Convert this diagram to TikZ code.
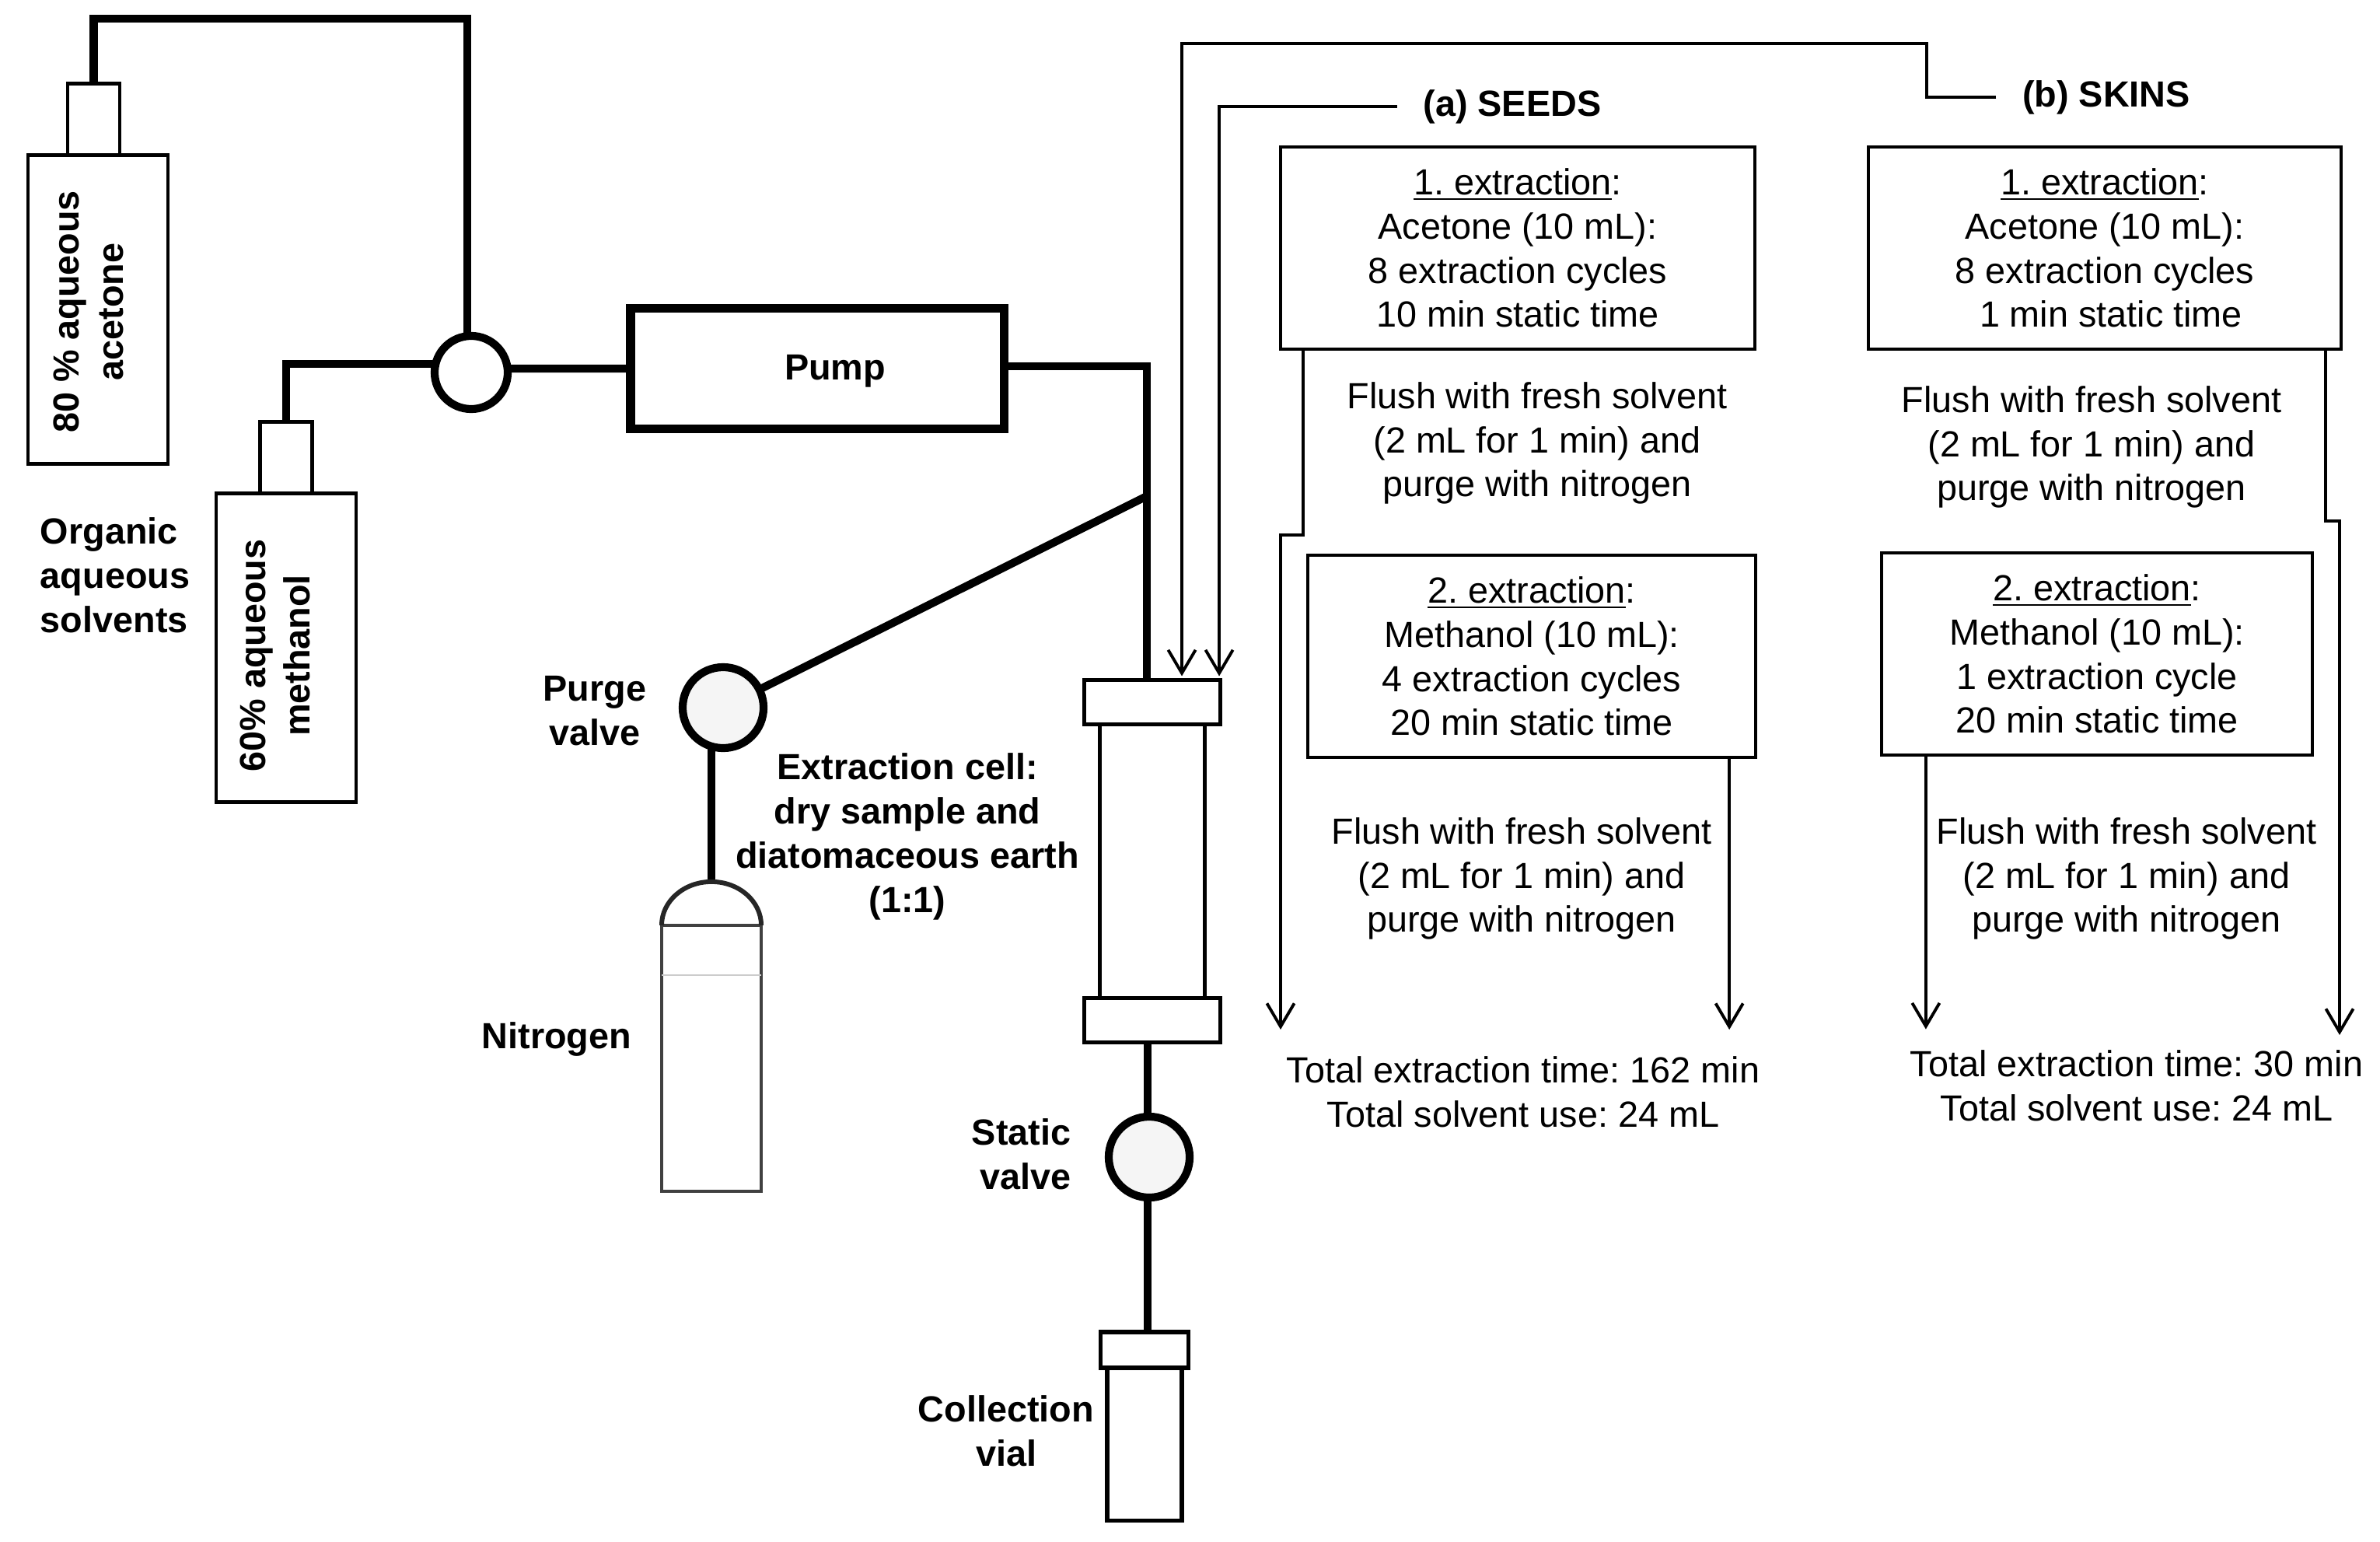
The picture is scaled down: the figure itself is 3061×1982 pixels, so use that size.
\documentclass[tikz,border=0pt]{standalone}
\usepackage{fontspec}
\setmainfont{Liberation Sans}
\usetikzlibrary{positioning,arrows.meta}
\frenchspacing

\begin{document}
\begin{tikzpicture}[
      x=0.01cm,
      y=-0.01cm,
      >={Straight Barb[length=8.5pt,width=10pt]},
      vessel/.style={
        draw,
        line width=1.3pt,
        outer sep=0pt,
        inner sep=0pt
      },
      valve/.style={
        draw,
        circle,
        line width=2.9pt,
        minimum size=1.04cm,
        inner sep=0pt,
        outer sep=0pt,
        fill=black!4
      },
      pipe/.style={line width=2.9pt},
      flow/.style={line width=1.1pt},
      tag/.style={
        font=\fontsize{13.3}{16.2}\selectfont\bfseries,
        align=center,
        inner sep=0pt
      },
      steptext/.style={
        font=\fontsize{13.3}{16.1}\selectfont,
        align=center,
        inner sep=0pt
      },
      stepbox/.style={
        steptext,
        draw,
        line width=1.1pt,
        outer sep=0pt
      }
    ]
    \useasboundingbox (0,0) rectangle (3061,1982);
    %% Solvents
    \node[vessel,minimum width=1.80cm,minimum height=3.97cm] (acetone) at (126,398) {};
    \node[vessel,minimum width=0.67cm,minimum height=0.92cm,above=0pt of acetone,xshift=-0.055cm] (acetone-neck) {};
    \node[tag,rotate=90] (acetone-tag) at (114,401) {80 \% aqueous\\acetone};
    \node[vessel,minimum width=1.80cm,minimum height=3.97cm] (methanol) at (368,833) {};
    \node[vessel,minimum width=0.67cm,minimum height=0.92cm,above=0pt of methanol] (methanol-neck) {};
    \node[tag,rotate=90] (methanol-tag) at (354,843) {60\% aqueous\\methanol};
    \node[tag,align=left] (solvents) at (148,740) {Organic\\aqueous\\solvents};
    %% Pump
    \node[valve,minimum size=0.94cm,fill=white] (mix) at (606,479) {};
    \node[draw,line width=3.2pt,minimum width=4.80cm,minimum height=1.55cm,outer sep=0pt] (pump) at (1051,474) {};
    \node[tag] (pump-tag) at (1074,477) {Pump};
    %% Extraction cell
    \node[vessel,line width=1.5pt,minimum width=1.75cm,minimum height=0.57cm] (cell-top) at (1482,903) {};
    \node[vessel,line width=1.5pt,minimum width=1.35cm,minimum height=3.52cm,below=0pt of cell-top] (cell) {};
    \node[vessel,line width=1.5pt,minimum width=1.75cm,minimum height=0.57cm,below=0pt of cell] (cell-bottom) {};
    \node[tag] (cell-tag) at (1167,1076) {Extraction cell:\\dry sample and\\diatomaceous earth\\(1:1)};
    %% Purge valve and nitrogen
    \coordinate (junction) at (1475,638);
    \node[valve] (purge) at (930,910) {};
    \node[tag] (purge-tag) at (765,914) {Purge\\valve};
    \node[vessel,draw=black!75,minimum width=1.28cm,minimum height=3.42cm] (nitrogen) at (915,1361) {};
    \coordinate (dome-top) at ([yshift=0.56cm]nitrogen.north);
    \node[tag] (nitrogen-tag) at (716,1336) {Nitrogen};
    %% Static valve and vial
    \node[valve] (static) at (1478,1488) {};
    \node[tag,align=right,anchor=east] (static-tag) at (1378,1484) {Static\\valve};
    \node[vessel,line width=1.5pt,minimum width=1.13cm,minimum height=0.46cm] (vial-cap) at (1472,1736) {};
    \node[vessel,line width=1.5pt,minimum width=0.96cm,minimum height=1.96cm,below=0pt of vial-cap] (vial) {};
    \node[tag] (vial-tag) at (1294,1840) {Collection\\vial};
    %% Thick lines
    \draw[pipe] (acetone-neck.north) -- ++(0,-83) -| ([xshift=-0.05cm]mix.north);
    \draw[pipe] (methanol-neck.north) |- ([yshift=0.11cm]mix.west);
    \draw[pipe] ([yshift=0.05cm]mix.east) -- (pump.west);
    \draw[pipe] ([yshift=0.03cm]pump.east) -| ([xshift=-0.07cm]cell-top.north);
    \draw[pipe] (junction) -- (purge);
    \draw[pipe] (dome-top |- purge.south) -- (dome-top);
    \draw[pipe] ([xshift=-0.02cm]static.north |- cell-bottom.south) -- ([xshift=-0.02cm]static.north);
    \draw[pipe] ([xshift=-0.02cm]static.south) -- ([xshift=-0.02cm]static.south |- vial-cap.north);
    %% Cylinder top
    \draw[line width=1.7pt,draw=black!85] (nitrogen.north west) arc[start angle=180,end angle=0,x radius=0.64cm,y radius=0.56cm];
    \draw[line width=0.5pt,draw=black!20] ([yshift=-0.64cm]nitrogen.north west) -- ([yshift=-0.64cm]nitrogen.north east);
    %% Seeds
    \node[tag,inner xsep=0.33cm] (seeds) at (1945,137) {(a) SEEDS};
    \node[stepbox,minimum width=6.10cm,minimum height=2.59cm] (seeds-1) at (1952,319) {\underline{1. extraction}:\\Acetone (10 mL):\\8 extraction cycles\\10 min static time};
    \node[steptext] (seeds-flush-1) at (1977,570) {Flush with fresh solvent\\(2 mL for 1 min) and\\purge with nitrogen};
    \node[stepbox,minimum width=5.76cm,minimum height=2.60cm] (seeds-2) at (1970,844) {\underline{2. extraction}:\\Methanol (10 mL):\\4 extraction cycles\\20 min static time};
    \node[steptext] (seeds-flush-2) at (1957,1130) {Flush with fresh solvent\\(2 mL for 1 min) and\\purge with nitrogen};
    \node[steptext] (seeds-total) at (1959,1404) {Total extraction time: 162 min\\Total solvent use: 24 mL};
    %% Skins
    \node[tag,inner xsep=0.33cm] (skins) at (2709,125) {(b) SKINS};
    \node[stepbox,minimum width=6.08cm,minimum height=2.59cm] (skins-1) at (2707,319) {\underline{1. extraction}:\\Acetone (10 mL):\\8 extraction cycles\\\hspace*{4.5pt}1 min static time};
    \node[steptext] (skins-flush-1) at (2690,575) {Flush with fresh solvent\\(2 mL for 1 min) and\\purge with nitrogen};
    \node[stepbox,minimum width=5.54cm,minimum height=2.59cm] (skins-2) at (2697,841) {\underline{2. extraction}:\\Methanol (10 mL):\\1 extraction cycle\\20 min static time};
    \node[steptext] (skins-flush-2) at (2735,1130) {Flush with fresh solvent\\(2 mL for 1 min) and\\purge with nitrogen};
    \node[steptext] (skins-total) at (2748,1396) {Total extraction time: 30 min\\Total solvent use: 24 mL};
    %% Arrows to the cell
    \coordinate (skins-bend) at (2478,56);
    \draw[flow,->] (skins.west) -| (skins-bend) -| ([xshift=0.38cm,yshift=0.05cm]cell-top.north);
    \draw[flow,->] (seeds.west) -| ([xshift=0.86cm,yshift=0.05cm]cell-top.north);
    %% Arrows to the totals
    \coordinate (seeds-jog) at (1647,688);
    \coordinate (seeds-end) at (1647,1324);
    \coordinate (skins-jog) at (3009,670);
    \coordinate (skins-end) at (3009,1331);
    \draw[flow,->] ([xshift=0.29cm]seeds-1.south west) |- (seeds-jog) -- (seeds-end);
    \draw[flow,->] ([xshift=-0.34cm]seeds-2.south east) -- ++(0,350);
    \draw[flow,->] ([xshift=-0.20cm]skins-1.south east) |- (skins-jog) -- (skins-end);
    \draw[flow,->] ([xshift=0.57cm]skins-2.south west) -- ++(0,353);
  \end{tikzpicture}
\end{document}
